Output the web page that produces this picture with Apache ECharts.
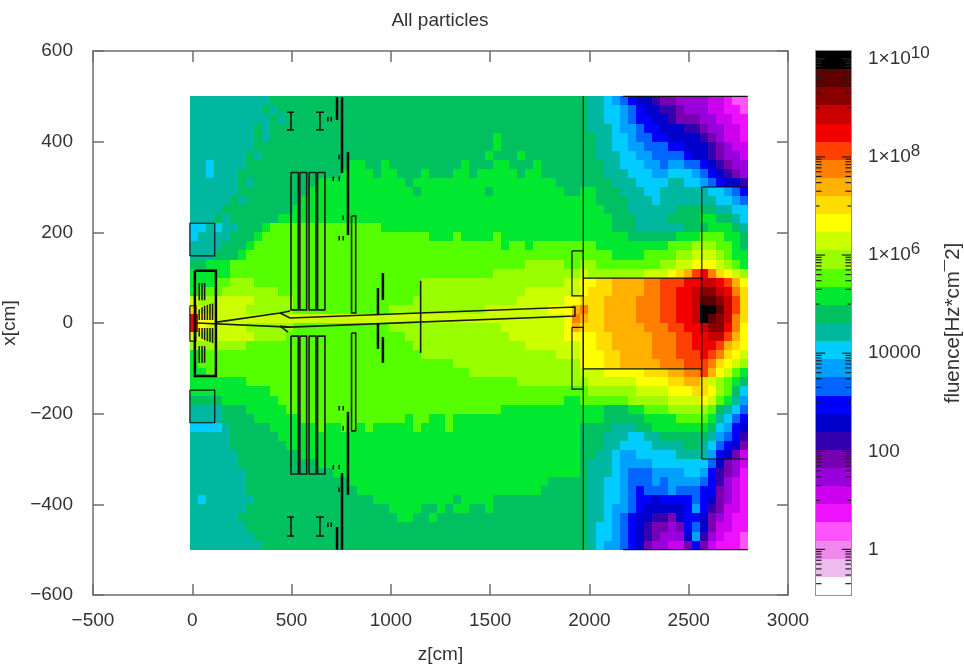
<!DOCTYPE html>
<html>
<head>
<meta charset="utf-8">
<script src="https://cdn.jsdelivr.net/npm/echarts@6/dist/echarts.min.js"></script>
<style>
html,body{margin:0;padding:0;background:#fff}
#c{width:964px;height:668px;filter:blur(0.6px)}
</style>
</head>
<body>
<div id="c"></div>
<script>
// colour bands, top (1e10) to bottom
const bandCodes = "ABCDEFGHIJKLMNOPQRSTUVWXYZabcd";
const bandColors = ["#000000","#5c0000","#8a0000","#c80000","#f20000","#ff4000","#ff8000","#ffb000","#ffdc00","#ffff00",
  "#ccff00","#99ff00","#55ff00","#00e830","#00c060","#00b8a0","#00ccff","#00a0ff","#0066ff","#0000ff",
  "#0000cc","#3300b0","#7700b0","#9900dd","#cc00ee","#ee11ff","#ff55ff","#f088ee","#eebbee","#ffffff"];
const colourTop = 10.16, colourBottom = -0.93;
const colourTicksMajor = [0,2,4,6,8,10];
const heatZ = [-12, 2797];
const heatX = [500, -500];

// z < wall: one band code per cell, top row first; a short row repeats its last code
const heatNear = [
"PPPPPPPPPPO",
"PPPPPPPPPOPO",
"PPPPPPPPPPOPO",
"PPPPPPPPOPO",
"PPPPPPPPOPOOOOOOOOOOOOOOOOOOOOOOOOOOOONOOOO",
"PPPPPPPPOOOOOOOOOOOOOOOOOOOOOOOOOOOOOONOOOOOO",
"PPPPPPPOPOOOOOOOOOOOOOOOOOOOOOOOOOOOONOOONOOO",
"PPQPPPPOOOOOOOOOOOOONNOONOOOOOOOOONOOONNOOONOOOO",
"PPQPPPOOOOOOOOOOOOONNNNONNOOONOOONNONNNNNONNOOOO",
"PPPPPPOPOOOOOOOONNNNNNNNNNNONNNNNNNNNNNNNNNNNNOO",
"PPPPPPOOOOOOOOONNNNNNNNNNNNNONNNNNNNNONNNNNNNNNO",
"PPPPPOPOOOOOOONNN",
"PPPPOOOOOOOOONNN",
"PPPOPOOOOOONNN",
"QQPQPPOOONMMMMMMMMMMMMMMNNNN",
"QPPPPOOONMMMMMMMMMMMMMMMMMMMMMNNNMNNNNMN",
"PPPPOOONMMMMMMMMMMMMMMMMMMMMMMMMMMMMMMMNMMNMMM",
"PPPOOONM",
"OONNNMMMMMMMMMMMMMMMMMMMMMMMMMMMMMMMMMMMMMLLLLLMM",
"NNNNNMMMMMMMMMMMMMMMMMMMMMMMMMMMMMMMMMLLLLLLLLLLL",
"NNNMMLLLMMMMMMMMMMMMMMMMMMMMMLLLLLLLLLLLLLLLLLLKK",
"NMMMLLLLLLLMMMMMMMMMMMMMMMMMMLLLLLLLLLLLLLKKKKKKK",
"KLLKKKKKLLLLLMMMMMMMMMMMMMMMLLLLLLLLLLLLLKKKKKKJJ",
"IKKKKKKLLLLLLMMMMMMMMMMMMLLLLLLLLLLLLKKKKKKKKJJJH",
"EJJKKKKKKKKKKKKKKKKKKKKKKKKKKKKKKKKKKKKKKKKKKKKJG",
"EJKKKKKLLLLLLMMMMMMMMMMMMLLLLLLLLLLLLLLKKKKKKKKJH",
"KKLKKKKKLLLLMMMMMMMMMMMMMMMLLLLLLLLLLLLLKKKKKKKJJ",
"LLLLLLLMMMMMMMMMMMMMMMMMMMMMLLLLLLLLLLLLLLKKKKKKK",
"NMMMMMMMMMMMMMMMMMMMMMMMMMMMMLLLLLLLLLLLLLLLLLKKK",
"NMMMMMMMMMMMMMMMMMMMMMMMMMMMMMMMML",
"NNMMMMMMMMMMMMMMMMMMMMMMMMMMMMMMMMML",
"NNNNNNNMMMMMMMMMMMMMMMMMMMMMMMMMMMMMMMMMML",
"NNNNNNNNNNM",
"OOOONNNNNNNMMMMMMMMMMMMMMMMMMMMMMMMMMMMMMMMMMMMNN",
"PPPPOOONNNNNMMMMMMMMMMMMMMMMMMMMMMMMMMMN",
"PPPPOOOONNNNNNMMMMMMMMMMMMMNMMNNMN",
"QQQQPOOOOONNNNNNMNNMMNMNNNNNMNNNMN",
"PPPPPOOOOOONNN",
"PPPPPOOOOOOONN",
"PPPPPPOOOOOOOON",
"PPPPPPOOOOOOOOOON",
"PPPPPPPOOOOOOOOOOON",
"PPPPPPPOOOOOOOOOOOOONNNNNNNNNNNNNNNNNNNNNNNNNOOOO",
"PPPPPPPOOOOOOOOOOOOOONNNNNNNNNNNNNNNNNNNNNNNOOOOO",
"PQPPPPPPOOOOOOOOOOOOOOONNNNNNNNNNONNNNOOO",
"PPPPPPPOOOOOOOOOOOOOOOOOONNNNOONONNOONOOO",
"PPPPPPOOOOOOOOOOOOOOOOOOOONNOONOO",
"PPPPPPPO",
"PPPPPPPPO",
"PPPPPPPPPO"
];
// z > wall
const heatFar = [
"OPPQRSTUUVWWXXXXYYZaa",
"OPPQQRSTUUVVWXXXYYZZa",
"OPPQQRSTTUUVWWWXXYYZZ",
"OPPPQRRSTTUUUVVWXXYYZ",
"OOPPQQRSSTTUUUUVWXYYZ",
"OOPPQQRRSSSTTUUUVWXYY",
"OOPPPQQRRSSSSTUUVWXXY",
"OOOPPQQQRRSRRSSTUVWXX",
"OOOPPPQQQRRQQQRSTUVWX",
"OOOOPPPQQQQPPQQRSTUUV",
"NNOOOPPPQQPPPPPPQQRST",
"NNOOOOPPPQPPPPPPPQQRS",
"NNNOOOPPPPPPOOOOOPPQQ",
"NNNNOOOPPPPOOOONNOOPQ",
"NNNNOOOPPPPPPOOONNNOP",
"NNNNNNOOOOOONNNMMMNNO",
"MMNNNNNNNNNMMMLLLMMNO",
"MMMMNNNNMMMMLLKKKLMNN",
"LLMMMMMMMMLLKKJJJKLMN",
"KLLLLLLLKKKJIHFEGIJKL",
"JJIIHHHHGGFFFEEDDEFHJ",
"JIIIHHHHGGFFEEDCCDEGI",
"IIIHHHHGGGFFEEDBBCDFI",
"GIIHHHHGGGFFEEDAABDFI",
"HIIHHHHGGGFFEEDABCDGI",
"IIIHHHHHGGGFFEEDCCEGJ",
"JJIIHHHHHGGGFFEEDDFHJ",
"JJIIHHHHHGGGFFEEEFHIJ",
"JJJIIHHHHGGGFFFEFGIJK",
"JJJIIHHHHHGGGFFFGIJKL",
"KKKJJJJJIIIHHGGFHJKMN",
"LKKKKKKJJJJIIHHIKLMNO",
"MLLLLLLKKKKJJJIIJLMOQ",
"MMMMMMLLLLLKKKKJKMNPR",
"NNNOOONNMMMLLLLLMOPQS",
"NNNOOOOONNNNMMMMNPQST",
"OOOOPPPOONNNNNNNOQRTU",
"OOOPPPQQPPOOOOOOPRSTV",
"OOOPPQQQQPPPPOOPQSTUW",
"OOPPQRRQQQQQPPPPRTUWY",
"OPPPQRRRRQQQQQQQSUWXY",
"OPPPQRSSSRRRRQQRTVWXZ",
"OPPQQRSSSRSRRRRSTVXYZ",
"OPPQQRSTSSSRSSSTTWXYZ",
"OPPQQRSTTUTTTTSTUWXYZ",
"OPPQRRSTUUUUUTRTVWYYZ",
"OPPQRSTUUVVWUTTUWXYZZ",
"OPQQRSTUVWWXWTSUWYYZZ",
"OPQQRSTUVWXXXURVXYZZa",
"OPQRRSTUWXXYYWTWYZZZa"
];

// detector outlines, in [z, x] cm
const thinOutlines = [
 [[-12,148],[113,148],[113,220],[-12,220],[-12,148]],
 [[-12,-148],[113,-148],[113,-220],[-12,-220],[-12,-148]],
 [[-12,38],[18,38],[18,-40],[-12,-40],[-12,38]],
 [[1969,500],[1969,-500]],
 [[1912,159],[1969,159],[1969,60],[1912,60],[1912,159]],
 [[1912,-9.5],[1969,-9.5],[1969,-146],[1912,-146],[1912,-9.5]],
 [[1969,99],[2566,99]],
 [[1969,-101],[2566,-101]],
 [[2566,300],[2566,-300]],
 [[2566,300],[2797,300]],
 [[2566,-300],[2797,-300]],
 [[2169,500],[2797,500]],
 [[2169,-500],[2797,-500]]
];
const mediumOutlines = [
 [[497,332],[534,332],[534,29],[497,29],[497,332]],
 [[542,332],[576,332],[576,29],[542,29],[542,332]],
 [[588,332],[623,332],[623,29],[588,29],[588,332]],
 [[631,332],[668,332],[668,29],[631,29],[631,332]],
 [[497,-29],[534,-29],[534,-333],[497,-333],[497,-29]],
 [[542,-29],[576,-29],[576,-333],[542,-333],[542,-29]],
 [[588,-29],[623,-29],[623,-333],[588,-333],[588,-29]],
 [[631,-29],[668,-29],[668,-333],[631,-333],[631,-29]],
 [[802,236],[823,236],[823,22],[802,22],[802,236]],
 [[802,-22],[823,-22],[823,-238],[802,-238],[802,-22]],
 [[1150,93],[1150,-66]],
 [[124,2],[442,22],[492,26.5],[442,22],[492,11],[1927,35.3],[1927,15.4],[492,-9],[24,0]],
 [[442,-7],[482,-20]],
 [[442,-7],[492,-9]],
 [[477,465],[512,465]],[[497,465],[497,426]],[[477,426],[512,426]],
 [[623,465],[663,465]],[[643,465],[643,426]],[[623,426],[663,426]],
 [[477,-428],[512,-428]],[[497,-428],[497,-470]],[[477,-470],[512,-470]],
 [[623,-428],[663,-428]],[[643,-428],[643,-470]],[[623,-470],[663,-470]],
 [[35,30],[35,6.6]],[[49,35],[49,6.6]],[[62,38],[62,6.6]],[[76,40],[76,6.6]],[[89,42],[89,6.6]],[[102,43],[102,6.6]],
 [[35,-11],[35,-30]],[[49,-11],[49,-35]],[[62,-11],[62,-38]],[[76,-11],[76,-40]],[[89,-11],[89,-42]],[[102,-11],[102,-44]],
 [[35,88],[35,50]],[[49,88],[49,50]],[[62,88],[62,50]],
 [[35,-51],[35,-88]],[[49,-51],[49,-88]],[[62,-51],[62,-88]],
 [[683,455],[683,445]],[[700,455],[700,445]],[[683,-440],[683,-450]],[[700,-440],[700,-450]],
 [[739,371],[739,361]],[[710,323],[710,313]],[[740,323],[740,313]],[[760,237],[760,227]],[[740,192],[740,182]],[[760,192],[760,182]],
 [[739,-363],[739,-373]],[[710,-313],[710,-323]],[[740,-313],[740,-323]],[[760,-227],[760,-237]],[[740,-183],[740,-193]],[[760,-183],[760,-193]]
];
const thickOutlines = [
 [[13,115],[119,115],[119,-117],[13,-117],[13,115]],
 [[729,498],[729,448]],[[754,498],[754,331]],[[784,377],[784,194]],
 [[729,-450],[729,-500]],[[754,-331],[754,-500]],[[784,-196],[784,-379]],
 [[935,77],[935,18]],[[960,110],[960,51]],[[935,0],[935,-57]],[[960,-31],[960,-88]]
];

const minus = v => String(v).replace('-', '\u2212');
const textColor = '#333';
const frame = '#6e6e6e';
const font = 'Liberation Sans';

const cells = [];
const dzCols = 70, nRows = heatNear.length;
const dz = (heatZ[1]-heatZ[0])/dzCols, dx = (heatX[1]-heatX[0])/nRows;
heatNear.forEach((row, r) => {
  const full = row.padEnd(49, row[row.length-1]).slice(0,49) + heatFar[r];
  for (let c = 0; c < full.length; c++) {
    cells.push([heatZ[0]+c*dz, heatZ[0]+(c+1)*dz, heatX[0]+r*dx, heatX[0]+(r+1)*dx, bandCodes.indexOf(full[c])]);
  }
});

const bandStep = (colourTop-colourBottom)/bandColors.length;
const bandRows = bandColors.map((c,i) => [colourTop-i*bandStep, colourTop-(i+1)*bandStep, i]);

function outlineSeries(list, width, color) {
  return {
    type:'custom', coordinateSystem:'cartesian2d', xAxisIndex:0, yAxisIndex:0, silent:true, animation:false, z:5,
    data:list.map((p,i)=>[i]),
    renderItem:(params, api)=>({
      type:'polyline',
      shape:{points:list[api.value(0)].map(p=>api.coord(p))},
      style:{stroke:color, lineWidth:width, fill:null, lineJoin:'miter'}
    })
  };
}

// colour bar tick marks: majors every 100x, minors at 0.9..0.1 of each major
const tickMults = [0.9,0.8,0.7,0.6,0.5,0.4,0.3,0.2,0.1];
const tickMarks = [];
colourTicksMajor.forEach(d => {
  [0,1].forEach(side => {
    tickMarks.push([d, side, 0.26]);
    tickMults.forEach((m,i) => {
      const v = d + Math.log10(m);
      if (v > colourBottom) tickMarks.push([v, side, i === 8 ? 0.1 : 0.16]);
    });
  });
});

const axisBase = {axisLine:{show:true,onZero:false,lineStyle:{color:frame,width:1.5}},splitLine:{show:false}};
const chart = echarts.init(document.getElementById('c'),null,{renderer:'canvas'});
chart.setOption({
  animation:false,
  backgroundColor:'#fff',
  textStyle:{fontFamily:font},
  title:{text:'All particles',left:435,top:6,textAlign:'center',textStyle:{fontFamily:font,fontSize:19,fontWeight:'normal',color:textColor}},
  grid:[
    {left:93,top:51,width:695,height:544,outerBoundsMode:'none'},
    {left:816,top:51,width:35,height:544,outerBoundsMode:'none'}
  ],
  xAxis:[
    Object.assign({},axisBase,{type:'value',gridIndex:0,min:-500,max:3000,interval:500,name:'z[cm]',nameLocation:'middle',nameGap:50,
      nameTextStyle:{fontFamily:font,fontSize:19,color:textColor},
      axisTick:{inside:true,length:11,lineStyle:{color:frame,width:1.5}},
      axisLabel:{margin:16,fontSize:19,color:textColor,fontFamily:font,formatter:minus,showMinLabel:true,showMaxLabel:true}}),
    Object.assign({},axisBase,{type:'value',gridIndex:0,position:'top',min:-500,max:3000,interval:500,
      axisTick:{inside:true,length:11,lineStyle:{color:frame,width:1.5}},axisLabel:{show:false}}),
    Object.assign({},axisBase,{type:'value',gridIndex:1,min:0,max:1,axisTick:{show:false},axisLabel:{show:false}}),
    Object.assign({},axisBase,{type:'value',gridIndex:1,position:'top',min:0,max:1,axisTick:{show:false},axisLabel:{show:false}})
  ],
  yAxis:[
    Object.assign({},axisBase,{type:'value',gridIndex:0,min:-600,max:600,interval:200,name:'x[cm]',nameLocation:'middle',nameGap:60,
      nameTextStyle:{fontFamily:font,fontSize:19,color:textColor},
      axisTick:{inside:true,length:11,lineStyle:{color:frame,width:1.5}},
      axisLabel:{margin:20,fontSize:19,color:textColor,fontFamily:font,formatter:minus}}),
    Object.assign({},axisBase,{type:'value',gridIndex:0,position:'right',min:-600,max:600,interval:200,
      axisTick:{inside:true,length:11,lineStyle:{color:frame,width:1.5}},axisLabel:{show:false}}),
    Object.assign({},axisBase,{type:'value',gridIndex:1,min:colourBottom,max:colourTop,axisTick:{show:false},axisLabel:{show:false}}),
    Object.assign({},axisBase,{type:'value',gridIndex:1,position:'right',min:colourBottom,max:colourTop,
      name:'fluence[Hz*cm\u00AF2]',nameLocation:'middle',nameGap:92,nameRotate:90,
      nameTextStyle:{fontFamily:font,fontSize:20.5,color:textColor},
      axisTick:{show:false},
      axisLabel:{margin:17,fontSize:19,color:textColor,fontFamily:font,customValues:colourTicksMajor,
        formatter:v=>{
          v=Math.round(v);
          if(v>=6) return '1\u00D710{s|'+v+'}';
          return String(Math.pow(10,v));
        },
        rich:{s:{fontSize:17,color:textColor,fontFamily:font,padding:[0,0,11,0]}}}})
  ],
  series:[
    {type:'custom',coordinateSystem:'cartesian2d',xAxisIndex:0,yAxisIndex:0,silent:true,animation:false,progressive:0,z:2,
      data:cells,
      renderItem:(params,api)=>{
        const a=api.coord([api.value(0),api.value(2)]), b=api.coord([api.value(1),api.value(3)]);
        const x=Math.round(a[0]), y=Math.round(a[1]);
        return {type:'rect',shape:{x,y,width:Math.round(b[0])-x,height:Math.round(b[1])-y},
          style:{fill:bandColors[api.value(4)]}};
      }},
    outlineSeries(thinOutlines,1.2,'#111'),
    outlineSeries(mediumOutlines,1.6,'#1a1a1a'),
    outlineSeries(thickOutlines,2.5,'#000'),
    {type:'custom',coordinateSystem:'cartesian2d',xAxisIndex:2,yAxisIndex:2,silent:true,animation:false,z:2,
      data:bandRows,
      renderItem:(params,api)=>{
        const a=api.coord([0,api.value(0)]), b=api.coord([1,api.value(1)]);
        const y=Math.round(a[1]);
        return {type:'rect',shape:{x:a[0],y,width:b[0]-a[0],height:Math.round(b[1])-y},
          style:{fill:bandColors[api.value(2)]}};
      }},
    {type:'custom',coordinateSystem:'cartesian2d',xAxisIndex:2,yAxisIndex:2,silent:true,animation:false,z:3,
      data:tickMarks,
      renderItem:(params,api)=>{
        const side=api.value(1), len=api.value(2);
        const p=api.coord(side?[1,api.value(0)]:[0,api.value(0)]);
        const q=api.coord(side?[1-len,api.value(0)]:[len,api.value(0)]);
        return {type:'line',shape:{x1:p[0],y1:p[1],x2:q[0],y2:q[1]},style:{stroke:'#222',lineWidth:1.2}};
      }}
  ]
});
</script>
</body>
</html>
